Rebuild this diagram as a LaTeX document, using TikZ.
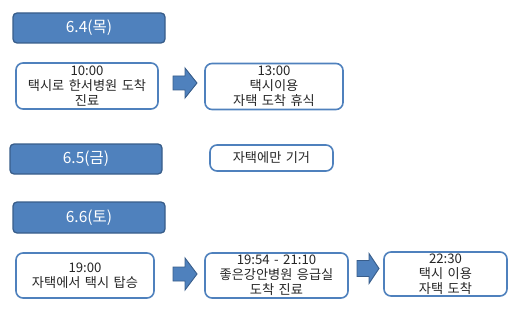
\documentclass[tikz,border=0pt]{standalone}
\usepackage{fontspec}
\setmainfont[WordSpace=1.5]{Noto Sans CJK KR}
\definecolor{hdrfill}{HTML}{4F81BD}
\definecolor{hdrline}{HTML}{385D8A}
\definecolor{boxline}{HTML}{4F81BD}
\tikzset{
  hdr/.style={draw=hdrline, line width=1.3pt, fill=hdrfill, rounded corners=4pt,
    text=white, inner sep=0pt, font=\fontsize{15.5}{17}\selectfont},
  evbox/.style={draw=boxline, line width=1.6pt, fill=white, rounded corners=7pt,
    text=black!85, inner sep=0pt, align=center, font=\fontsize{13.2}{15}\selectfont},
  blockarrow/.style={draw=hdrline, line width=0.9pt, fill=hdrfill, line join=miter}
}
\begin{document}
\begin{tikzpicture}[x=1pt,y=-1pt]
\useasboundingbox (0,0) rectangle (520,313);
% headers
\node[hdr, minimum width=152pt, minimum height=30pt] (h1) at (89,28) {6.4(목)};
\node[hdr, minimum width=152pt, minimum height=30pt] (h2) at (86,159) {6.5(금)};
\node[hdr, minimum width=152pt, minimum height=31pt] (h3) at (89,217.5) {6.6(토)};
% row 1
\node[evbox, minimum width=142pt, minimum height=46pt] (b1) at (87,86) {10:00\\택시로 한서병원 도착\\진료};
\node[evbox, minimum width=138pt, minimum height=46pt] (b2) at (274,86.5) {13:00\\택시이용\\자택 도착 휴식};
% row 2
\node[evbox, minimum width=123pt, minimum height=26pt] (b3) at (271.5,158) {자택에만 기거};
% row 3
\node[evbox, minimum width=138pt, minimum height=45pt] (b4) at (85,275.5) {19:00\\자택에서 택시 탑승};
\node[evbox, minimum width=143pt, minimum height=45pt] (b5) at (276.5,275.5) {19:54 - 21:10\\좋은강안병원 응급실\\도착 진료};
\node[evbox, minimum width=123pt, minimum height=44pt] (b6) at (445.5,274) {22:30\\택시 이용\\자택 도착};
% block arrows
\coordinate (a1) at (173,83);
\draw[blockarrow] (a1) ++(0,-7) -- ++(12,0) -- ++(0,-8) -- ++(12,15) -- ++(-12,15) -- ++(0,-8) -- ++(-12,0) -- cycle;
\coordinate (a2) at (173,274);
\draw[blockarrow] (a2) ++(0,-7) -- ++(12,0) -- ++(0,-9) -- ++(12,16) -- ++(-12,16) -- ++(0,-9) -- ++(-12,0) -- cycle;
\coordinate (a3) at (357,268.5);
\draw[blockarrow] (a3) ++(0,-8) -- ++(12,0) -- ++(0,-7) -- ++(10,15) -- ++(-10,15) -- ++(0,-7) -- ++(-12,0) -- cycle;
\end{tikzpicture}
\end{document}
